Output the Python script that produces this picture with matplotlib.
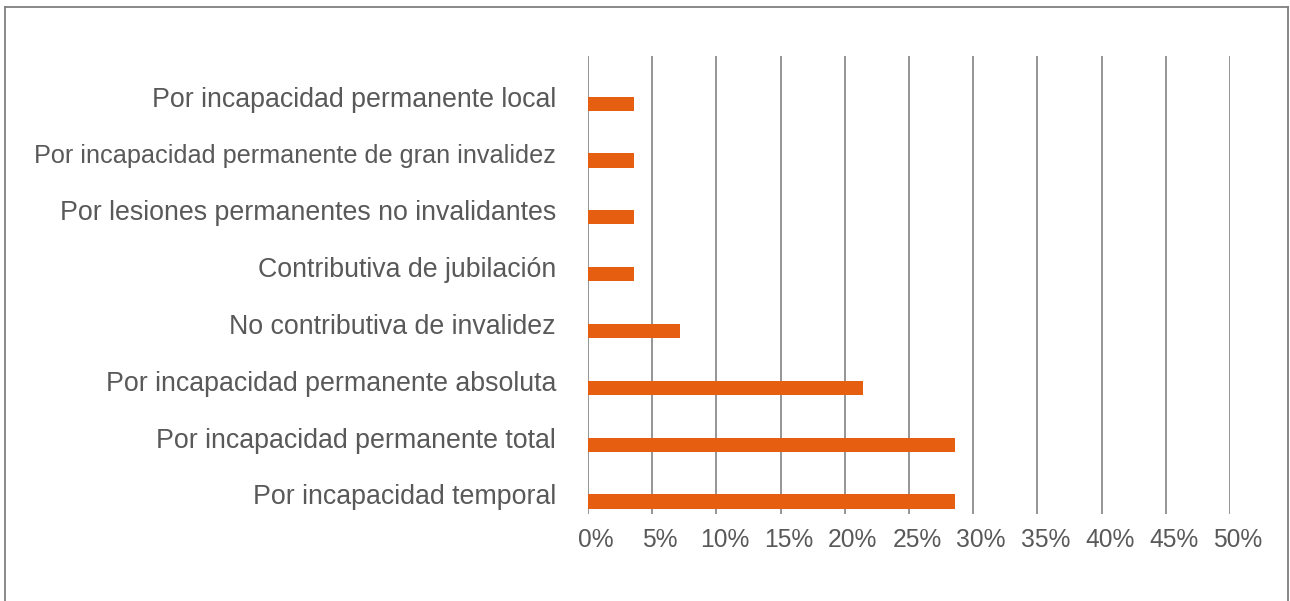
import matplotlib.pyplot as plt
import matplotlib.transforms as mtransforms
from matplotlib.lines import Line2D

# categories listed bottom to top
categories = [
    "Por incapacidad temporal",
    "Por incapacidad permanente total",
    "Por incapacidad permanente absoluta",
    "No contributiva de invalidez",
    "Contributiva de jubilación",
    "Por lesiones permanentes no invalidantes",
    "Por incapacidad permanente de gran invalidez",
    "Por incapacidad permanente local",
]
values = [28.57, 28.57, 21.43, 7.14, 3.57, 3.57, 3.57, 3.57]
xticks = [0, 5, 10, 15, 20, 25, 30, 35, 40, 45, 50]

bar_color = "#E65F10"
text_color = "#595959"
grid_color = "#8C8C8C"

plt.rcParams["font.family"] = ["Liberation Sans", "DejaVu Sans"]

fig = plt.figure(figsize=(12.9, 6.01), dpi=100)
ax = fig.add_axes([0.4558, 0.1448, 0.4977, 0.762])

pos = list(range(len(categories)))
ax.barh(pos, values, height=0.25, color=bar_color, zorder=3)

ax.set_xlim(0, 50)
ax.set_ylim(-0.22, 7.84)
ax.set_xticks(xticks)
ax.set_xticklabels([f"{t}%" for t in xticks])
ax.set_yticks(pos)
ax.set_yticklabels(categories)
ax.tick_params(axis="x", length=0, pad=10, labelsize=17.7, labelcolor=text_color)
ax.tick_params(axis="y", length=0, pad=23, labelsize=19.3, labelcolor=text_color)
offset = mtransforms.ScaledTranslation(8 / 100, 0, fig.dpi_scale_trans)
for lab in ax.get_xticklabels():
    lab.set_transform(lab.get_transform() + offset)
for lab in ax.get_yticklabels():
    lab.set_transform(lab.get_transform() + mtransforms.ScaledTranslation(0, 7 / 100, fig.dpi_scale_trans))
    # the longest label is drawn a bit smaller in the original
    if "gran invalidez" in lab.get_text():
        lab.set_fontsize(18.2)

ax.grid(axis="x", color=grid_color, linewidth=1.3, zorder=0)
for s in ax.spines.values():
    s.set_visible(False)

# outer frame (bottom edge cut off)
frame = dict(color="#7F7F7F", linewidth=1.3, transform=fig.transFigure)
fig.add_artist(Line2D([5 / 1290, 5 / 1290], [0, 1 - 7 / 601], **frame))
fig.add_artist(Line2D([5 / 1290, 1288 / 1290], [1 - 7 / 601, 1 - 7 / 601], **frame))
fig.add_artist(Line2D([1288 / 1290, 1288 / 1290], [0, 1 - 7 / 601], **frame))

fig.savefig("out.png", dpi=100)
